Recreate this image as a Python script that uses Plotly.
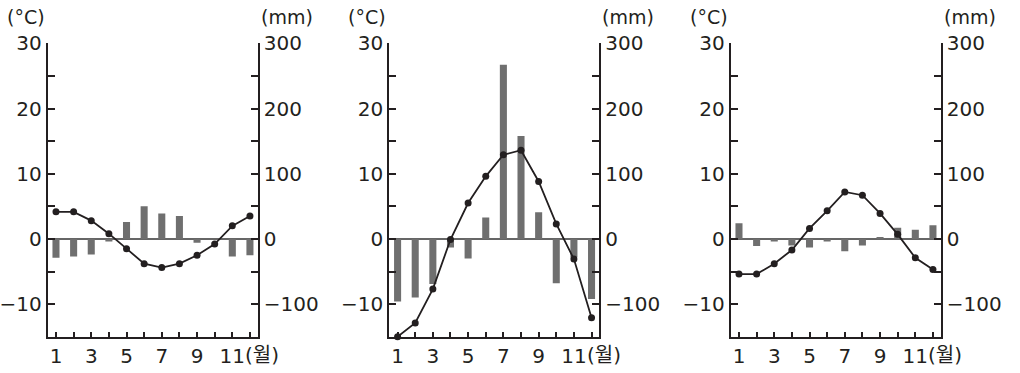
import plotly.graph_objects as go

months = list(range(1, 13))

temp_a = [4.15, 4.15, 2.8, 0.8, -1.5, -3.8, -4.4, -3.8, -2.5, -0.8, 2.0, 3.5]
prec_a = [-29, -27, -24, -4, 26, 50, 39, 35, -6, 0, -27, -25]

temp_b = [-15.0, -12.9, -7.7, -0.1, 5.5, 9.6, 12.9, 13.6, 8.8, 2.3, -3.1, -12.1]
prec_b = [-96, -90, -69, -13, -30, 33, 267, 158, 41, -68, -28, -92]

temp_c = [-5.4, -5.4, -3.8, -1.7, 1.6, 4.3, 7.2, 6.7, 3.9, 0.7, -2.9, -4.7]
prec_c = [24, -11, -4, -10, -13, -4, -19, -10, 3, 17, 14, 21]

temp_ticks = [-10, -5, 0, 5, 10, 15, 20, 25, 30]
temp_text = ["−10", "", "0", "", "10", "", "20", "", "30"]
prec_ticks = [-100, -50, 0, 50, 100, 150, 200, 250, 300]
prec_text = ["−100", "", "0", "", "100", "", "200", "", "300"]
month_text = ["1", "", "3", "", "5", "", "7", "", "9", "", "11", ""]

INK = "#231f20"
BAR = "#6f6f6f"
FONT = "DejaVu Sans, Noto Sans CJK KR, sans-serif"
FS = 20
W, H = 1020, 373

panels = [(temp_a, prec_a, 47.7), (temp_b, prec_b, 389.3), (temp_c, prec_c, 730.7)]
ydom = [(H - 336.7) / H, (H - 43.3) / H]

fig = go.Figure()
layout = dict(
    width=W, height=H, margin=dict(l=0, r=0, t=0, b=0, autoexpand=False),
    paper_bgcolor="white", plot_bgcolor="white", showlegend=False,
    font=dict(family=FONT, size=FS, color=INK), bargap=0.6,
)
annotations = []

for i, (temps, precs, x0) in enumerate(panels):
    n = i + 1
    xa = f"x{n}" if n > 1 else "x"
    yp_id = 2 * i + 1
    yt_id = 2 * i + 2
    yp = f"y{yp_id}" if yp_id > 1 else "y"
    yt = f"y{yt_id}"
    xkey = f"xaxis{n}" if n > 1 else "xaxis"
    ypkey = f"yaxis{yp_id}" if yp_id > 1 else "yaxis"
    ytkey = f"yaxis{yt_id}"

    fig.add_trace(go.Bar(x=months, y=precs, xaxis=xa, yaxis=yp,
                         marker=dict(color=BAR, line=dict(width=0)), width=0.4))
    fig.add_trace(go.Scatter(x=months, y=temps, xaxis=xa, yaxis=yt, mode="lines+markers",
                             line=dict(color=INK, width=1.8),
                             marker=dict(color=INK, size=7), cliponaxis=False))

    layout[xkey] = dict(
        domain=[x0 / W, (x0 + 210) / W], range=[0.53, 12.44], anchor=yp, automargin=False,
        tickvals=months, ticktext=month_text, ticks="inside", ticklen=5,
        tickwidth=1.5, tickcolor=INK, showline=True, linecolor=INK, linewidth=2,
        showgrid=False, zeroline=False, fixedrange=True,
    )
    layout[ypkey] = dict(
        domain=ydom, range=[-150, 300], anchor=xa, side="right", automargin=False,
        tickvals=prec_ticks, ticktext=prec_text, ticks="inside", ticklen=7,
        tickwidth=1.5, tickcolor=INK, showline=True, linecolor=INK, linewidth=2,
        showgrid=False, zeroline=True, zerolinecolor="#666666", zerolinewidth=1.5,
    )
    layout[ytkey] = dict(
        domain=ydom, range=[-15, 30], anchor=xa, overlaying=yp, side="left", automargin=False,
        tickvals=temp_ticks, ticktext=temp_text, ticks="inside", ticklen=7,
        tickwidth=1.5, tickcolor=INK, showline=True, linecolor=INK, linewidth=2,
        showgrid=False, zeroline=False,
    )
    annotations.append(dict(text="(°C)", x=0, xref=f"{xa} domain", xanchor="right", xshift=-1,
                            y=(H - 30) / H, yref="paper", yanchor="bottom", showarrow=False,
                            font=dict(size=19, color=INK, family=FONT)))
    annotations.append(dict(text="(mm)", x=1, xref=f"{xa} domain", xanchor="left", xshift=1,
                            y=(H - 30) / H, yref="paper", yanchor="bottom", showarrow=False,
                            font=dict(size=19, color=INK, family=FONT)))
    annotations.append(dict(text="(월)", x=11, xref=xa, xanchor="left", xshift=11,
                            y=(H - 355) / H, yref="paper", yanchor="middle", showarrow=False,
                            font=dict(size=FS, color=INK, family=FONT)))

layout["annotations"] = annotations
fig.update_layout(**layout)
fig.write_html("out.html", config={"displayModeBar": False},
               post_script="document.body.style.margin='0';")
